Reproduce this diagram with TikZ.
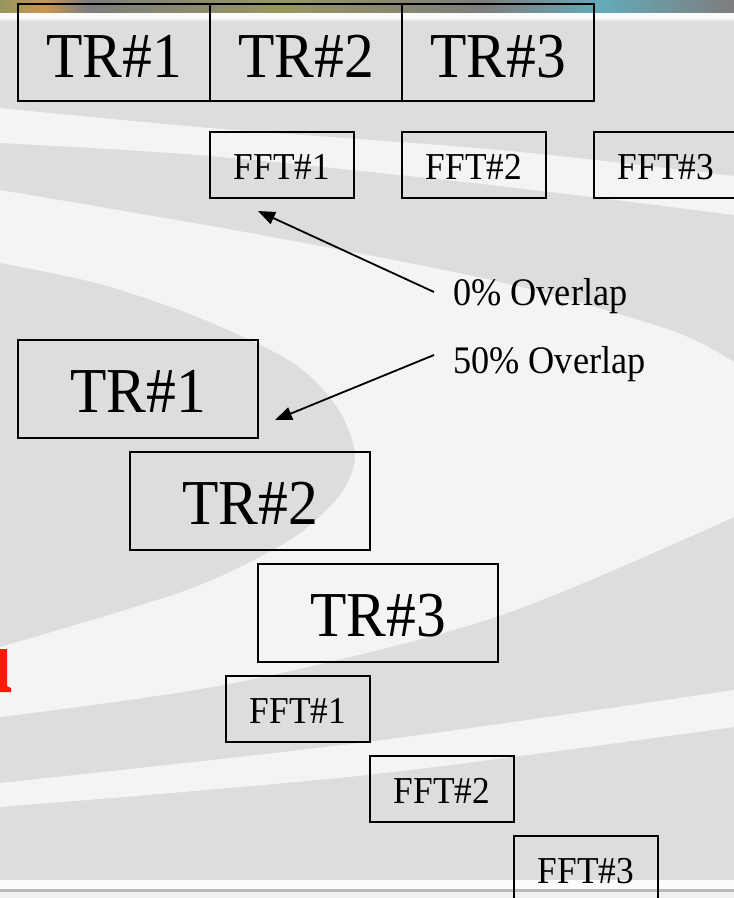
\documentclass[tikz,border=0pt]{standalone}
\usepackage{fontspec}
\setmainfont{Liberation Serif}
\newfontfamily\condserif[FakeStretch=0.93]{Liberation Serif}
\usetikzlibrary{arrows.meta}
\definecolor{bggray}{RGB}{221,221,221}
\definecolor{bglite}{RGB}{244,244,244}
\definecolor{olv}{RGB}{150,150,95}
\definecolor{gry}{RGB}{125,125,125}
\definecolor{tea}{RGB}{100,170,185}
\definecolor{orn}{RGB}{200,150,80}
\definecolor{redtitle}{RGB}{255,25,10}
\pgfdeclarehorizontalshading{stripshade}{100bp}{color(0bp)=(olv); color(25bp)=(olv); color(28bp)=(orn); color(31bp)=(gry); color(44bp)=(olv); color(58bp)=(gry); color(66bp)=(tea); color(75bp)=(gry); color(85bp)=(tea); color(100bp)=(gry)}
\newcommand{\lowr}[2]{\raisebox{-#1}[\height][0pt]{#2}}
\tikzset{
  boxline/.style={draw=black, line width=2pt, inner sep=0pt},
  trbox/.style={boxline, minimum width=240pt, minimum height=98pt, font=\condserif\fontsize{64}{70}\selectfont},
  trtop/.style={trbox, minimum width=192pt, minimum height=97pt},
  fftbox/.style={boxline, minimum width=144pt, minimum height=66pt, font=\condserif\fontsize{38}{40}\selectfont},
  lbl/.style={anchor=base west, inner sep=0pt, font=\condserif\fontsize{39}{40}\selectfont},
  arr/.style={line width=1.8pt, -{Triangle[length=17pt,width=13pt]}},
}
\begin{document}
\begin{tikzpicture}[x=1pt,y=-1pt]
\useasboundingbox (0,0) rectangle (734,898);
\clip (0,0) rectangle (734,898);
% background
\fill[bggray] (0,0) rectangle (734,898);
% upper thin light band
\fill[bglite] plot[smooth] coordinates {(0,108) (210,128) (500,150) (734,176)}
  -- plot[smooth] coordinates {(734,215) (500,186) (210,156) (0,143)} -- cycle;
% big light swirl region
\fill[bglite] plot[smooth] coordinates {(0,190) (250,233) (500,282) (670,330) (734,362)}
  -- plot[smooth] coordinates {(734,517) (496,617) (234,683) (0,717)}
  -- plot[smooth] coordinates {(0,647) (187,590) (290,540) (340,495) (355,455) (337,407) (292,362) (200,318) (100,284) (0,263)}
  -- cycle;
% lower thin light band
\fill[bglite] plot[smooth] coordinates {(0,783) (367,742) (734,690)}
  -- plot[smooth] coordinates {(734,727) (367,775) (0,807)} -- cycle;
% bottom bar
\fill[white!98!gray] (0,880) rectangle (734,889);
\fill[gray!55] (0,888.5) rectangle (734,891.5);
\fill[gray!12] (0,891.5) rectangle (734,898);
% top picture strip
\shade[shading=stripshade] (0,0) rectangle (734,13);
\fill[white!96!gray] (0,13) rectangle (734,18);
\shade[top color=white!96!gray, bottom color=bggray] (0,18) rectangle (734,21);
% red fragment of title letter
\fill[redtitle] (0,649) -- (7,649) -- (7,686) -- (11,688) -- (11,692) -- (0,692) -- cycle;
% top row, 0% overlap
\node[trtop] (ta1) at (114,52.5) {\lowr{4pt}{TR\#1}};
\node[trtop] (ta2) at (306,52.5) {\lowr{4pt}{TR\#2}};
\node[trtop] (ta3) at (498,52.5) {\lowr{4pt}{TR\#3}};
\node[fftbox] (fa1) at (282,165) {\lowr{2pt}{FFT\#1}};
\node[fftbox] (fa2) at (474,165) {\lowr{2pt}{FFT\#2}};
\node[fftbox] (fa3) at (666,165) {\lowr{2pt}{FFT\#3}};
% 50% overlap
\node[trbox] (tb1) at (138,389) {\lowr{2pt}{TR\#1}};
\node[trbox] (tb2) at (250,501) {\lowr{2pt}{TR\#2}};
\node[trbox] (tb3) at (378,613) {\lowr{2pt}{TR\#3}};
\node[fftbox] (fb1) at (298,709) {\lowr{1.5pt}{FFT\#1}};
\node[fftbox] (fb2) at (442,789) {\lowr{1.5pt}{FFT\#2}};
\node[fftbox] (fb3) at (586,869) {\lowr{1.5pt}{FFT\#3}};
% labels
\node[lbl] (l0) at (453,305) {0\% Overlap};
\node[lbl] (l50) at (453,373) {50\% Overlap};
\coordinate (s0) at (434,292);
\coordinate (t0) at (258,211);
\coordinate (s50) at (434,355);
\coordinate (t50) at (275,420);
\draw[arr] (s0) -- (t0);
\draw[arr] (s50) -- (t50);
\end{tikzpicture}
\end{document}
